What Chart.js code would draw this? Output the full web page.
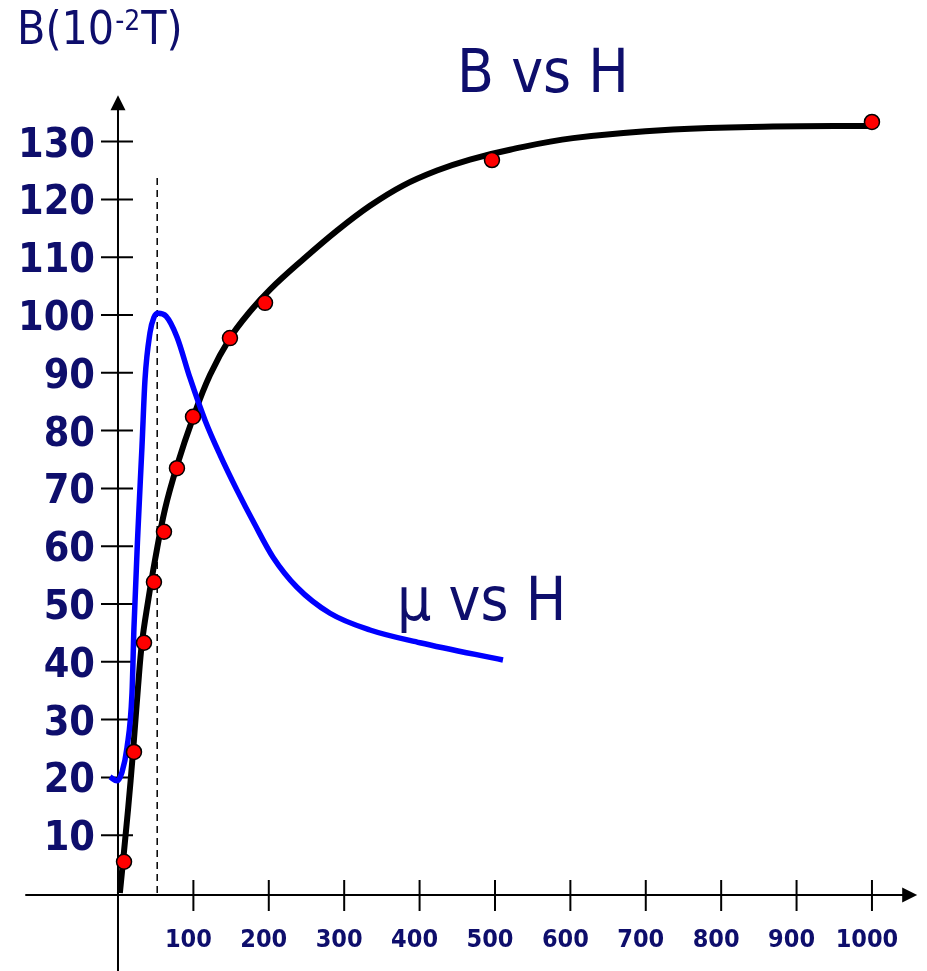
<!DOCTYPE html>
<html><head><meta charset="utf-8">
<script src="https://cdn.jsdelivr.net/npm/chart.js@4"></script>
<style>html,body{margin:0;padding:0;background:#fff;}canvas{display:block;}</style>
</head><body>
<canvas id="c" width="927" height="971"></canvas>
<script>
// ---------- data ----------
const xTickValues = [100, 200, 300, 400, 500, 600, 700, 800, 900, 1000];
const xTickLabels = ['100', '200', '300', '400', '500', '600', '700', '800', '900', '1000'];
const yTickValues = [10, 20, 30, 40, 50, 60, 70, 80, 90, 100, 110, 120, 130];
const yTickLabels = ['10', '20', '30', '40', '50', '60', '70', '80', '90', '100', '110', '120', '130'];

// measured B vs H points (red dots)
const measuredH = [8, 21.2, 34.5, 47.7, 61, 78.2, 99.5, 148.5, 195, 496, 1000];
const measuredB = [5.4, 24.4, 43.3, 53.8, 62.5, 73.5, 82.4, 96, 102.1, 126.8, 133.4];

// fitted B vs H curve (black)
const bCurveH = [2.5, 13.3, 19.9, 26.5, 31.8, 39.8, 49.1, 62.3, 78.2, 99.5, 122, 148.5, 175.1, 201.6, 245.4, 290.5, 334.2, 378, 423.1, 466.8, 519.9, 603.4, 736.1, 868.7, 997.3];
const bCurveB = [0, 14.4, 24.4, 35.5, 43.3, 50.4, 57.6, 66.4, 73.9, 82.2, 89.6, 96.0, 100.6, 104.4, 109.6, 114.6, 118.9, 122.4, 125.0, 126.9, 128.6, 130.6, 132.1, 132.6, 132.7];

// mu vs H curve (blue)
const muCurveH = [-10.6, -1.3, 5.3, 11.9, 18.6, 21.2, 26.5, 31.8, 35.8, 42.4, 47.7, 53.1, 63.7, 78.2, 95.5, 115.4, 135.3, 157.8, 181.7, 205.6, 237.4, 281.2, 334.2, 400.5, 510.6];
const muCurveB = [20.1, 19.4, 20.9, 25.1, 34.6, 46.0, 62.8, 77.2, 88.8, 96.9, 99.6, 100.3, 99.8, 96.2, 89.1, 81.8, 75.8, 69.7, 63.7, 58.1, 52.9, 48.4, 45.5, 43.3, 40.3];

// dashed marker at the permeability peak
const markerH = [52, 52];
const markerB = [0, 124];

const titleText = 'B vs H';
const muText = 'μ vs H';
const yUnitMain = 'B(10';
const yUnitSup = '-2';
const yUnitEnd = 'T)';

// ---------- styling ----------
const NAVY = '#0e0e6c';
const FONT = "'DejaVu Sans Condensed', 'DejaVu Sans', sans-serif";

const pts = (xs, ys) => xs.map((v, i) => ({x: v, y: ys[i]}));

const axesPlugin = {
  id: 'axesPlugin',
  beforeDatasetsDraw(chart) {
    const {ctx, scales: {x, y}} = chart;
    const x0 = x.getPixelForValue(0), y0 = y.getPixelForValue(0) + 2;
    ctx.save();
    ctx.strokeStyle = '#000';
    ctx.fillStyle = '#000';
    ctx.lineWidth = 2;
    // x axis
    const xl = x.getPixelForValue(-123), xr = x.getPixelForValue(1060);
    ctx.beginPath(); ctx.moveTo(xl, y0); ctx.lineTo(xr - 12, y0); ctx.stroke();
    ctx.beginPath(); ctx.moveTo(xr, y0); ctx.lineTo(xr - 15, y0 - 7.5); ctx.lineTo(xr - 15, y0 + 7.5); ctx.closePath(); ctx.fill();
    // y axis
    const yt = y.getPixelForValue(138), yb = chart.height;
    ctx.beginPath(); ctx.moveTo(x0, yb); ctx.lineTo(x0, yt + 12); ctx.stroke();
    ctx.beginPath(); ctx.moveTo(x0, yt); ctx.lineTo(x0 - 7.5, yt + 15); ctx.lineTo(x0 + 7.5, yt + 15); ctx.closePath(); ctx.fill();
    // ticks
    xTickValues.forEach(v => {
      const px = x.getPixelForValue(v);
      ctx.beginPath(); ctx.moveTo(px, y0 - 15); ctx.lineTo(px, y0 + 16); ctx.stroke();
    });
    yTickValues.forEach(v => {
      const py = y.getPixelForValue(v);
      ctx.beginPath(); ctx.moveTo(x0 - 17, py); ctx.lineTo(x0 + 15, py); ctx.stroke();
    });
    // tick labels
    ctx.fillStyle = NAVY;
    ctx.textBaseline = 'alphabetic';
    ctx.font = 'bold 41px ' + FONT;
    ctx.textAlign = 'right';
    yTickValues.forEach((v, i) => {
      const py = y.getPixelForValue(v);
      ctx.fillText(yTickLabels[i], x0 - 23, py + 15);
    });
    ctx.font = 'bold 25px ' + FONT;
    ctx.textAlign = 'center';
    xTickValues.forEach((v, i) => {
      const px = x.getPixelForValue(v);
      ctx.fillText(xTickLabels[i], px - 5, y0 + 52);
    });
    // texts
    ctx.textAlign = 'left';
    ctx.font = '60px ' + FONT;
    ctx.fillText(titleText, 457, 92);
    ctx.fillText(muText, 397, 620);
    ctx.font = '46px ' + FONT;
    ctx.fillText(yUnitMain, 17, 44);
    const w1 = ctx.measureText(yUnitMain).width;
    ctx.font = '28px ' + FONT;
    ctx.fillText(yUnitSup, 17 + w1 + 1, 30);
    const w2 = ctx.measureText(yUnitSup).width;
    ctx.font = '46px ' + FONT;
    ctx.fillText(yUnitEnd, 17 + w1 + w2 + 2, 44);
    ctx.restore();
  }
};

const setTicks = vals => scale => { scale.ticks = vals.map(v => ({value: v})); };

new Chart(document.getElementById('c'), {
  type: 'scatter',
  data: {
    datasets: [
      {
        label: 'measured',
        data: pts(measuredH, measuredB),
        pointRadius: 7.5,
        pointBackgroundColor: '#ff0000',
        pointBorderColor: '#000',
        pointBorderWidth: 1.5,
        showLine: false
      },
      {
        label: 'μ vs H',
        data: pts(muCurveH, muCurveB),
        showLine: true,
        borderColor: '#0000ff',
        borderWidth: 5.5,
        pointRadius: 0,
        cubicInterpolationMode: 'monotone',
        borderCapStyle: 'butt',
        borderJoinStyle: 'round'
      },
      {
        label: 'B vs H',
        data: pts(bCurveH, bCurveB),
        showLine: true,
        borderColor: '#000',
        borderWidth: 6,
        pointRadius: 0,
        tension: 0.4,
        borderCapStyle: 'butt',
        borderJoinStyle: 'round'
      },
      {
        label: 'marker',
        data: pts(markerH, markerB),
        showLine: true,
        borderColor: '#000',
        borderWidth: 1.5,
        borderDash: [7, 5],
        pointRadius: 0
      }
    ]
  },
  options: {
    responsive: false,
    animation: false,
    events: [],
    layout: {padding: 0, autoPadding: false},
    plugins: {legend: {display: false}, tooltip: {enabled: false}, title: {display: false}},
    scales: {
      x: {type: 'linear', min: -156.5, max: 1073, display: false, afterBuildTicks: setTicks(xTickValues)},
      y: {type: 'linear', min: -13.5, max: 154.5, display: false, afterBuildTicks: setTicks(yTickValues)}
    }
  },
  plugins: [axesPlugin]
});
</script>
</body></html>
